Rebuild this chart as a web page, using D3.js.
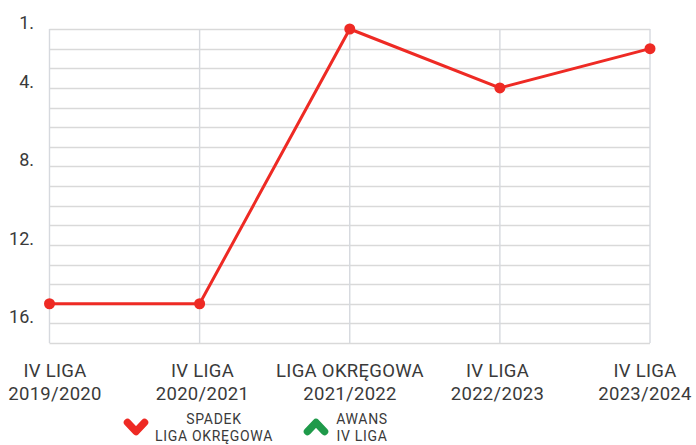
<!DOCTYPE html>
<html>
<head>
<meta charset="utf-8">
<script src="https://cdn.jsdelivr.net/npm/d3@7"></script>
<style>
  body { margin: 0; background: #fff; }
  svg text { font-family: Roboto, "Open Sans", sans-serif; fill: #3a3a3a; }
</style>
</head>
<body>
<div id="chart"></div>
<script>
// season table, position in league (1 = top)
var seasons = ["2019/2020", "2020/2021", "2021/2022", "2022/2023", "2023/2024"];
var leagues = ["IV LIGA", "IV LIGA", "LIGA OKRĘGOWA", "IV LIGA", "IV LIGA"];
var positions = [15, 15, 1, 4, 2];
var yTicks = [1, 4, 8, 12, 16];
var yDomain = [1, 17];

// legend
var legendTop = ["SPADEK", "AWANS"];
var legendBottom = ["LIGA OKRĘGOWA", "IV LIGA"];
var legendDir = ["down", "up"];
var legendColors = ["#ee2a24", "#1f9a4a"];

(function drawChart() {
	var width = 696, height = 445;
	var plot = {left: 49.5, right: 650, top: 29, bottom: 343};

	var svg = d3.select("#chart").append("svg")
		.attr("width", width)
		.attr("height", height);

	var x = d3.scalePoint()
		.domain(seasons)
		.range([plot.left, plot.right]);

	// labels sit a bit inward at the ends
	var xLabel = d3.scalePoint()
		.domain(seasons)
		.range([plot.left + 5.5, plot.right - 5]);

	var y = d3.scaleLinear()
		.domain(yDomain)
		.range([plot.top, plot.bottom]);

	// horizontal grid, one line per place
	svg.append("g")
		.selectAll("line")
		.data(d3.range(yDomain[0], yDomain[1] + 1))
		.enter().append("line")
		.attr("x1", plot.left)
		.attr("x2", plot.right)
		.attr("y1", function(d) { return Math.round(y(d)) + 0.5; })
		.attr("y2", function(d) { return Math.round(y(d)) + 0.5; })
		.style("stroke", "#d9d9d9")
		.style("stroke-width", 1.4);

	// vertical grid
	svg.append("g")
		.selectAll("line")
		.data(seasons)
		.enter().append("line")
		.attr("x1", function(d) { return x(d); })
		.attr("x2", function(d) { return x(d); })
		.attr("y1", plot.top)
		.attr("y2", plot.bottom)
		.style("stroke", "#d6d9de")
		.style("stroke-width", 1.4);

	// y tick labels
	svg.append("g")
		.selectAll("text")
		.data(yTicks)
		.enter().append("text")
		.attr("x", 34)
		.attr("y", function(d) { return y(d); })
		.attr("text-anchor", "end")
		.style("font-size", "18px")
		.text(function(d) { return d + "."; });

	// x labels, two rows
	var xl = svg.append("g").selectAll("g")
		.data(seasons)
		.enter().append("g")
		.attr("transform", function(d) { return "translate(" + xLabel(d) + ",0)"; });
	xl.append("text")
		.attr("y", 377)
		.attr("text-anchor", "middle")
		.style("font-size", "18.5px")
		.style("letter-spacing", "0.3px")
		.text(function(d, i) { return leagues[i]; });
	xl.append("text")
		.attr("y", 400)
		.attr("text-anchor", "middle")
		.style("font-size", "18.5px")
		.style("letter-spacing", "0.3px")
		.text(function(d) { return d; });

	// line + dots
	var line = d3.line()
		.x(function(d, i) { return x(seasons[i]); })
		.y(function(d) { return y(d); });

	svg.append("path")
		.datum(positions)
		.attr("d", line)
		.style("fill", "none")
		.style("stroke", "#ee2a24")
		.style("stroke-width", 3);

	svg.append("g")
		.selectAll("circle")
		.data(positions)
		.enter().append("circle")
		.attr("cx", function(d, i) { return x(seasons[i]); })
		.attr("cy", function(d) { return y(d); })
		.attr("r", 5.5)
		.style("fill", "#ee2a24");

	// legend
	var legendX = [136, 316];
	var legendTextX = [214, 362];
	legendTop.forEach(function(t, i) {
		var cx = legendX[i], cy = 427;
		var dy = legendDir[i] === "down" ? 4.5 : -4.5;
		svg.append("path")
			.attr("d", "M" + (cx - 8.5) + "," + (cy - dy) + "L" + cx + "," + (cy + dy) + "L" + (cx + 8.5) + "," + (cy - dy))
			.style("fill", "none")
			.style("stroke", legendColors[i])
			.style("stroke-width", 7.5)
			.style("stroke-linejoin", "round")
			.style("stroke-linecap", "round");
		svg.append("text")
			.attr("x", legendTextX[i])
			.attr("y", 424)
			.attr("text-anchor", "middle")
			.style("font-size", "14px")
			.style("letter-spacing", "0.7px")
			.text(t);
		svg.append("text")
			.attr("x", legendTextX[i])
			.attr("y", 441)
			.attr("text-anchor", "middle")
			.style("font-size", "14px")
			.style("letter-spacing", "0.7px")
			.text(legendBottom[i]);
	});
})();
</script>
</body>
</html>
